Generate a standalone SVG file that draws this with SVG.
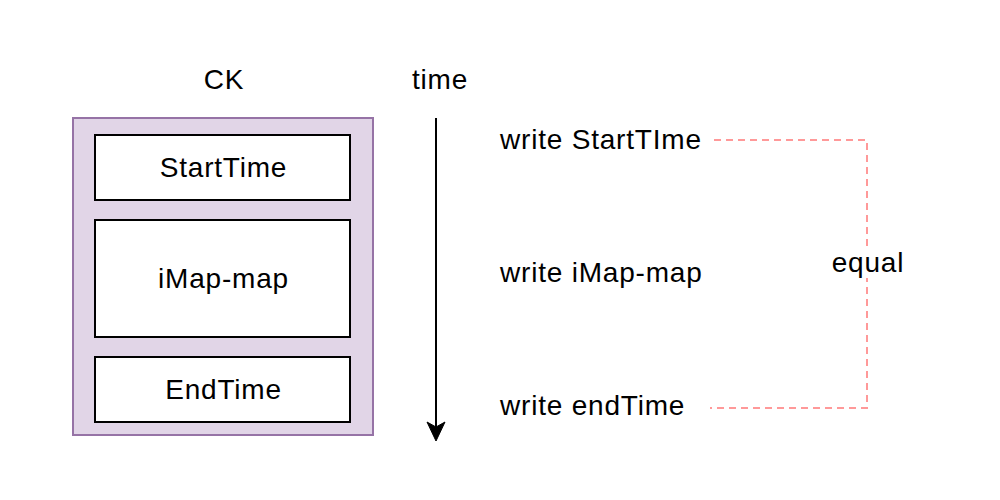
<svg xmlns="http://www.w3.org/2000/svg" width="1000" height="500" viewBox="0 0 1000 500">
<style>
text{font-family:"Liberation Sans",Arial,sans-serif;font-size:28px;letter-spacing:0.8px;fill:#000}
.box{fill:#fff;stroke:#000;stroke-width:2}
.mid{text-anchor:middle}
</style>
<rect width="1000" height="500" fill="#fff"/>
<g id="ck">
<rect x="73" y="118" width="300" height="317" fill="#e1d5e7" stroke="#9673a6" stroke-width="2"/>
<text x="224" y="89" class="mid">CK</text>
</g>
<g id="starttime">
<rect class="box" x="95" y="135" width="255" height="65"/>
<text x="223.5" y="177" class="mid">StartTime</text>
</g>
<g id="imapmap">
<rect class="box" x="95" y="220" width="255" height="117"/>
<text x="223.5" y="288" class="mid">iMap-map</text>
</g>
<g id="endtime">
<rect class="box" x="95" y="357" width="255" height="65"/>
<text x="223.5" y="399" class="mid">EndTime</text>
</g>
<g id="time-label"><text x="440" y="89" class="mid">time</text></g>
<g id="w1"><text x="500" y="149">write StartTIme</text></g>
<g id="w2"><text x="500" y="282">write iMap-map</text></g>
<g id="w3"><text x="500" y="415">write endTime</text></g>
<g id="connectors">
<line x1="436" y1="118" x2="436" y2="430" stroke="#000" stroke-width="2"/>
<path d="M427,422 L436,427 L445,422 L436,441 Z" fill="#000" stroke="#000" stroke-width="1"/>
<path d="M714,140 H867 V408 H710" fill="none" stroke="#ff9999" stroke-width="2" stroke-dasharray="7,5"/>
<rect x="832" y="250" width="72" height="28" fill="#fff"/>
<text x="868" y="272" class="mid">equal</text>
</g>
</svg>
